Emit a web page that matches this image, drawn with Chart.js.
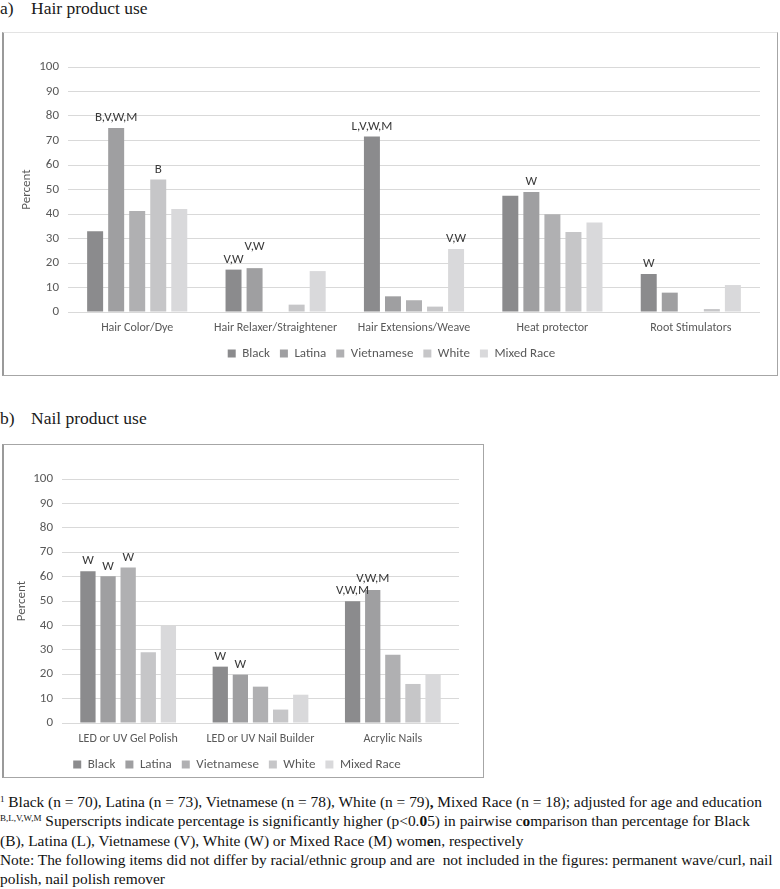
<!DOCTYPE html>
<html><head><meta charset="utf-8">
<script src="https://cdn.jsdelivr.net/npm/chart.js@4/dist/chart.umd.min.js"></script>
<style>
body{margin:0;background:#fff;width:780px;height:889px;position:relative;overflow:hidden;font-family:"Liberation Serif","Times New Roman",serif;color:#1a1a1a;}
.title{position:absolute;left:0;font-size:17.5px;white-space:nowrap;line-height:20px;}
.title span{display:inline-block;width:31px;}
.box{position:absolute;box-sizing:border-box;}
#boxA{left:2px;top:32px;width:776px;height:344px;border:1px solid #a6a6a6;border-top-color:#e3e3e3;border-left:2px solid #9a9a9a;}
#boxB{left:2px;top:444px;width:482px;height:334px;border:1px solid #a6a6a6;border-left:2px solid #9a9a9a;}
canvas{position:absolute;}
#note{position:absolute;left:0;top:792px;font-size:15.4px;line-height:19.3px;white-space:nowrap;color:#111;}
#note sup{font-size:9px;line-height:0;vertical-align:5px;}
</style>
</head><body>
<div class="title" style="top:-2px"><span>a)</span>Hair product use</div>
<div class="box" id="boxA"></div>
<canvas id="chartA" width="774" height="344" style="left:3px;top:32px;width:774px;height:344px"></canvas>
<div class="title" style="top:408px"><span>b)</span>Nail product use</div>
<div class="box" id="boxB"></div>
<canvas id="chartB" width="480" height="337" style="left:3px;top:444px;width:480px;height:337px"></canvas>
<div id="note">
<sup>1</sup> Black (n = 70), Latina (n = 73), Vietnamese (n = 78), White (n = 79)<b>,</b> Mixed Race (n = 18); adjusted for age and education<br>
<sup>B,L,V,W,M</sup> Superscripts indicate percentage is significantly higher (p&lt;0.<b>0</b>5) in pairwise c<b>o</b>mparison than percentage for Black<br>
(B), Latina (L), Vietnamese (V), White (W) or Mixed Race (M) wom<b>e</b>n, respectively<br>
Note: The following items did not differ by racial/ethnic group and are &nbsp;not included in the figures: permanent wave/curl, nail<br>
polish, nail polish remover
</div>
<script>
// ---- data ----
const groups = ["Black", "Latina", "Vietnamese", "White", "Mixed Race"];
const yTickMin = 0, yTickMax = 100, yTickStep = 10;

const hairCategories = ["Hair Color/Dye", "Hair Relaxer/Straightener", "Hair Extensions/Weave", "Heat protector", "Root Stimulators"];
const hairBlack      = [33.0, 17.3, 71.6, 47.4, 15.5];
const hairLatina     = [75.1, 17.9, 6.4, 49.0, 7.9];
const hairVietnamese = [41.2, 0, 4.8, 39.9, 0];
const hairWhite      = [54.1, 3.0, 2.2, 32.7, 1.2];
const hairMixed      = [42.0, 16.7, 25.7, 36.5, 11.0];
const hairSigBlack      = ["", "V,W", "L,V,W,M", "", "W"];
const hairSigLatina     = ["B,V,W,M", "V,W", "", "W", ""];
const hairSigVietnamese = ["", "", "", "", ""];
const hairSigWhite      = ["B", "", "", "", ""];
const hairSigMixed      = ["", "", "V,W", "", ""];

const nailCategories = ["LED or UV Gel Polish", "LED or UV Nail Builder", "Acrylic Nails"];
const nailBlack      = [62.2, 23.1, 49.9];
const nailLatina     = [60.1, 19.8, 54.5];
const nailVietnamese = [63.7, 14.9, 28.0];
const nailWhite      = [29.0, 5.5, 16.0];
const nailMixed      = [39.8, 11.6, 19.9];
const nailSigBlack      = ["W", "W", "V,W,M"];
const nailSigLatina     = ["W", "W", "V,W,M"];
const nailSigVietnamese = ["W", "", ""];
const nailSigWhite      = ["", "", ""];
const nailSigMixed      = ["", "", ""];

// ---- style ----
const FONT = "Carlito, Calibri, Lato, 'Open Sans', sans-serif";
const barColors = ["#8b8b8d", "#9f9fa1", "#b0b0b2", "#c6c6c8", "#d9d9db"];
Chart.defaults.font.family = FONT;

const sigPlugin = {
  id: 'sig',
  afterLayout(chart, args, opts) {
    const L = chart.legend;
    if (L && opts.legendShift) { L.left += opts.legendShift; L.right += opts.legendShift; }
  },
  afterDatasetsDraw(chart, args, opts) {
    const ctx = chart.ctx;
    const sigs = opts.labels || [];
    ctx.save();
    ctx.font = "13px " + FONT;
    ctx.fillStyle = "#3a3a3a";
    ctx.textAlign = "center";
    ctx.textBaseline = "middle";
    const h = 12.5;
    chart.data.labels.forEach((c, i) => {
      const placed = [];
      chart.data.datasets.forEach((ds, d) => {
        const t = sigs[d] && sigs[d][i];
        if (!t) return;
        const el = chart.getDatasetMeta(d).data[i];
        const w = ctx.measureText(t).width;
        let cy = el.y - 10;
        placed.forEach(p => {
          if (Math.abs(p.x - el.x) < (p.w + w) / 2 + 4 && Math.abs(p.y - cy) < h) cy = p.y - h;
        });
        placed.push({x: el.x, y: cy, w: w});
        ctx.fillText(t, el.x, cy);
      });
    });
    ctx.restore();
  }
};

function makeChart(id, cats, series, sigs, geo) {
  return new Chart(document.getElementById(id), {
    type: 'bar',
    data: {
      labels: cats,
      datasets: series.map((s, k) => ({
        label: groups[k], data: s, backgroundColor: barColors[k],
        barPercentage: 0.76, categoryPercentage: 0.76
      }))
    },
    plugins: [sigPlugin],
    options: {
      responsive: false, animation: false, maintainAspectRatio: false,
      layout: {padding: {left: 0, right: geo.right, top: geo.top, bottom: geo.bottom}},
      scales: {
        x: {
          grid: {display: false, drawTicks: false}, border: {display: false},
          ticks: {color: '#595959', font: {size: 12}, padding: 9, maxRotation: 0, autoSkip: false},
          afterFit(s) { s.height = 25; }
        },
        y: {
          min: yTickMin, max: yTickMax,
          ticks: {stepSize: yTickStep, color: '#595959', font: {size: 13}, padding: 9},
          grid: {color: '#d9d9d9', drawTicks: false, lineWidth: 1}, border: {display: false},
          title: {display: true, text: 'Percent', color: '#595959', font: {size: 13}, padding: {top: geo.titlePad, bottom: 0}},
          afterFit(s) { s.width = geo.yWidth; }
        }
      },
      plugins: {
        legend: {position: 'bottom', labels: {boxWidth: 8, boxHeight: 8, color: '#595959', font: {size: 13}, padding: 10}},
        tooltip: {enabled: false},
        sig: {labels: sigs, legendShift: geo.legendShift}
      }
    }
  });
}

makeChart('chartA', hairCategories,
  [hairBlack, hairLatina, hairVietnamese, hairWhite, hairMixed],
  [hairSigBlack, hairSigLatina, hairSigVietnamese, hairSigWhite, hairSigMixed],
  {right: 17, top: 35, bottom: 6, yWidth: 65, titlePad: 16, legendShift: 10});
makeChart('chartB', nailCategories,
  [nailBlack, nailLatina, nailVietnamese, nailWhite, nailMixed],
  [nailSigBlack, nailSigLatina, nailSigVietnamese, nailSigWhite, nailSigMixed],
  {right: 24, top: 35, bottom: 0, yWidth: 59, titlePad: 11, legendShift: 6});
</script>
</body></html>
